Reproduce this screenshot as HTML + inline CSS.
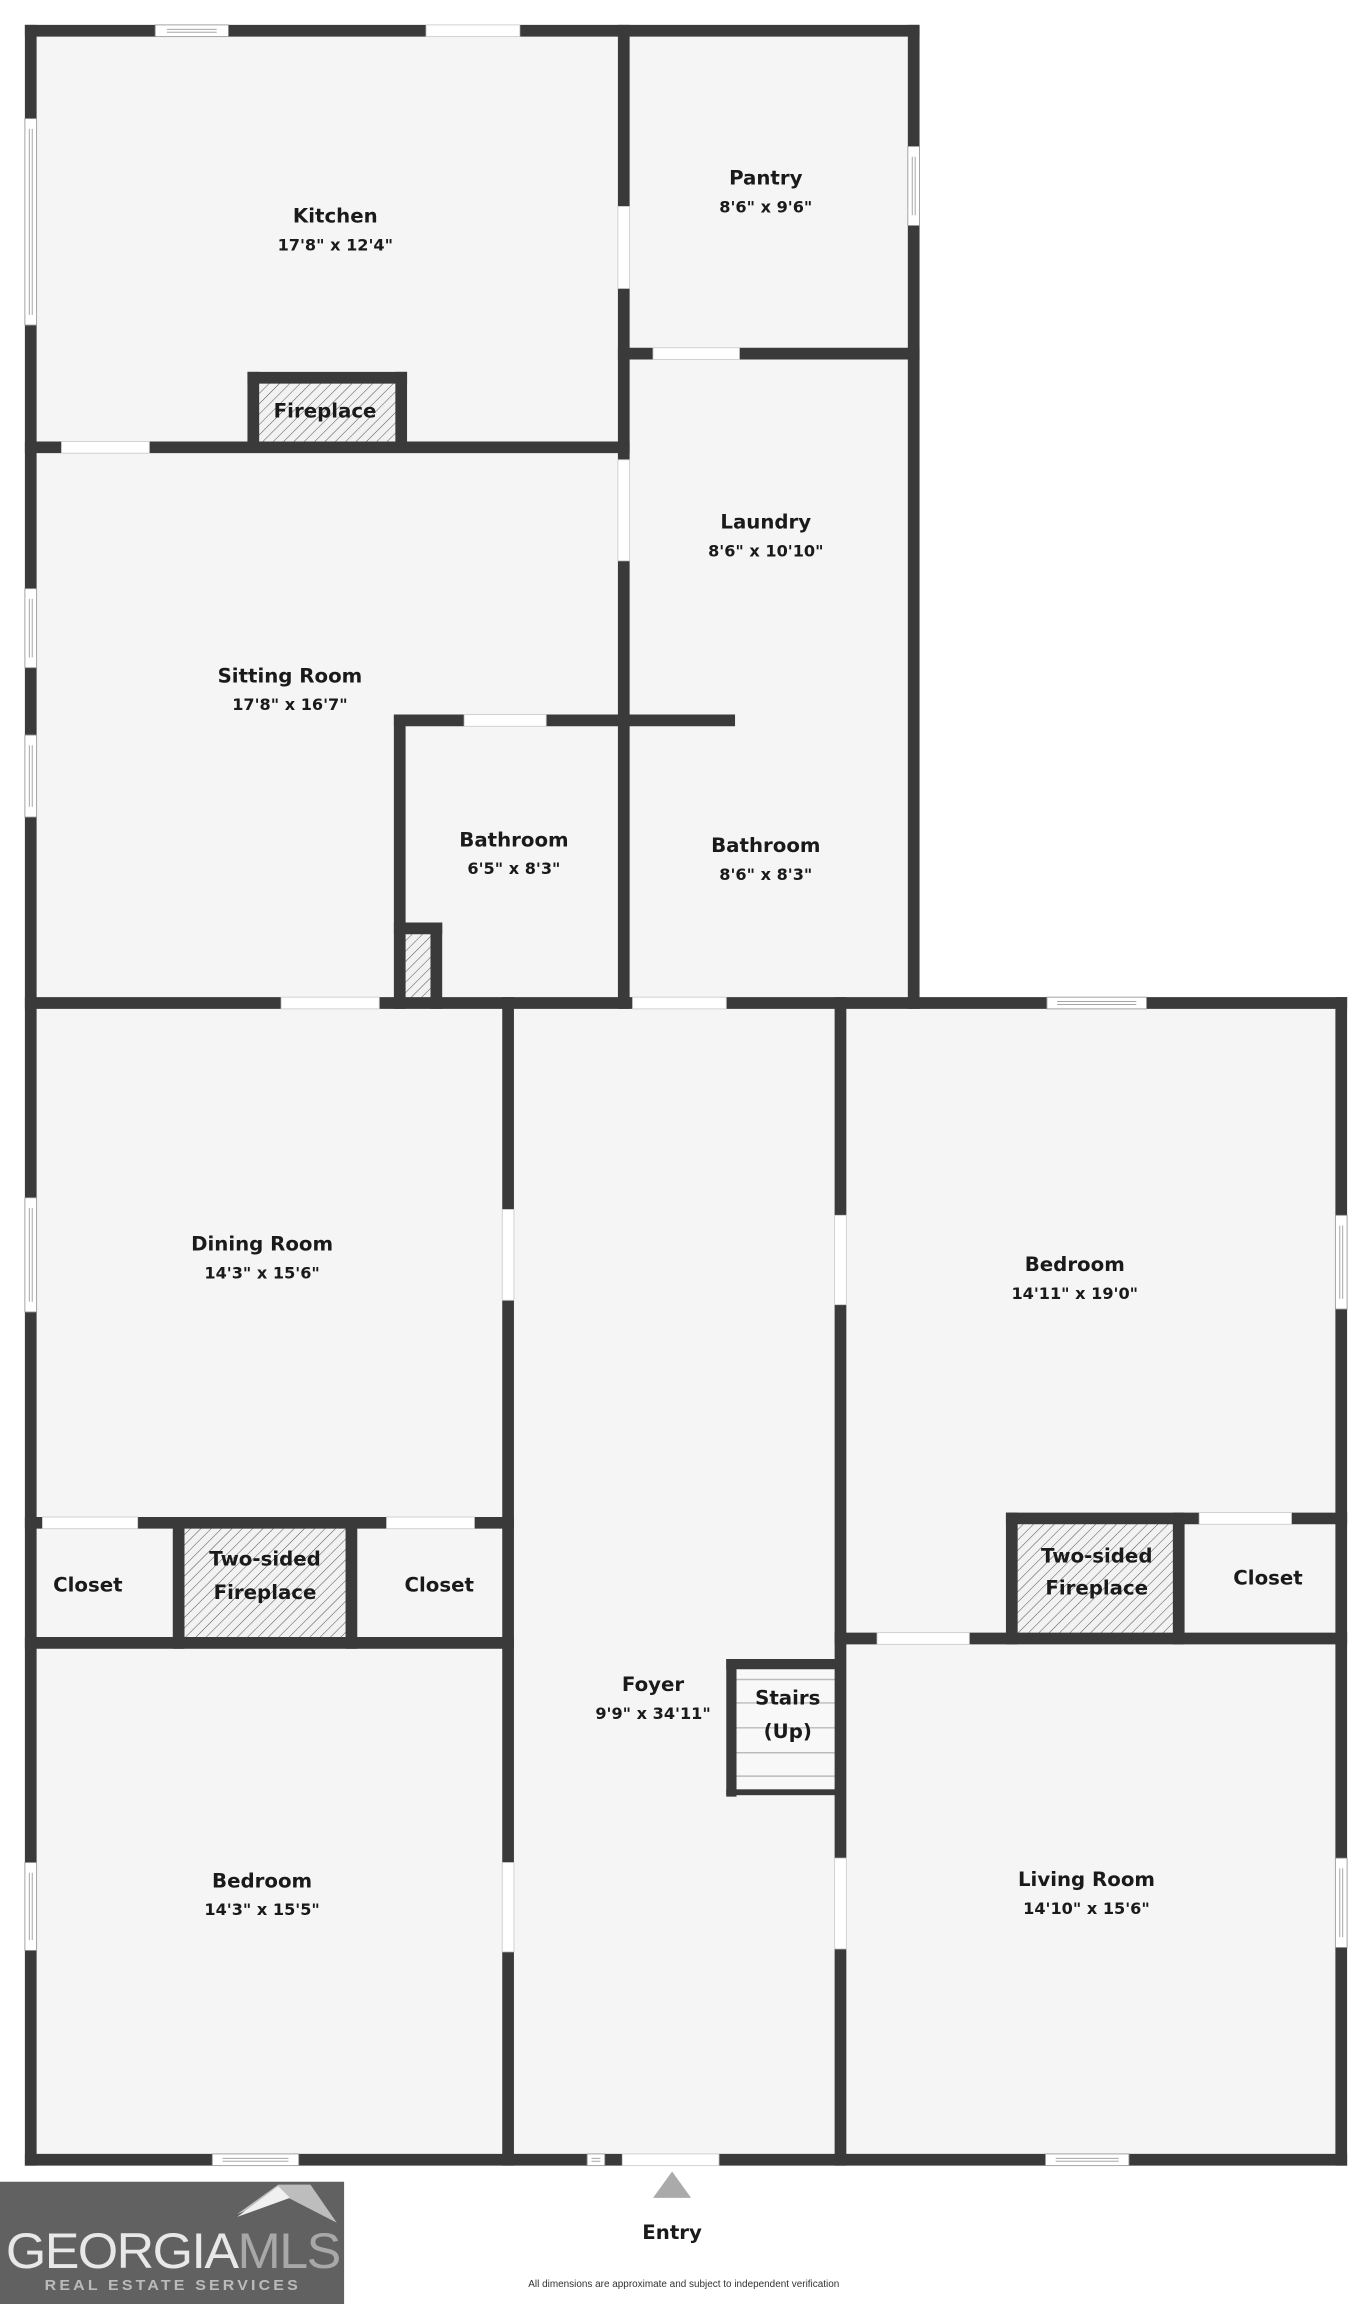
<!DOCTYPE html>
<html><head><meta charset="utf-8"><style>
html,body{margin:0;padding:0;background:#fff;}
svg{display:block;}
text{font-family:"DejaVu Sans","Liberation Sans",sans-serif;fill:#1a1a1a;text-anchor:middle;}
.n{font-size:13.5px;font-weight:bold;}
.d{font-size:11px;font-weight:bold;}
</style></head><body>
<svg width="1372" height="2304" viewBox="0 0 937 1573.5" preserveAspectRatio="none" xmlns="http://www.w3.org/2000/svg">
<defs>
<pattern id="h" width="5" height="5" patternUnits="userSpaceOnUse" patternTransform="rotate(45)">
<rect width="5" height="5" fill="#f2f2f2"/><line x1="0" y1="0" x2="0" y2="5" stroke="#555" stroke-width="0.7"/>
</pattern>
</defs>
<rect width="937" height="1573.5" fill="#fff"/>
<rect x="21" y="21" width="603" height="664" fill="#f5f5f5"/>
<rect x="21" y="685" width="895" height="790" fill="#f5f5f5"/>
<rect x="173" y="258" width="101" height="47" fill="url(#h)"/>
<rect x="273" y="634" width="25" height="51" fill="url(#h)"/>
<rect x="122" y="1040" width="118" height="82" fill="url(#h)"/>
<rect x="691" y="1037" width="114" height="82" fill="url(#h)"/>
<rect x="498" y="1136" width="76" height="89" fill="#f8f8f8"/>
<g stroke="#bbb" stroke-width="1">
<line x1="502" y1="1147" x2="572" y2="1147"/><line x1="502" y1="1163" x2="572" y2="1163"/>
<line x1="502" y1="1180" x2="572" y2="1180"/><line x1="502" y1="1197" x2="572" y2="1197"/>
<line x1="502" y1="1213" x2="572" y2="1213"/></g>
<g stroke="#3a3a3a" stroke-width="8" stroke-linecap="square" fill="none">
<line x1="21" y1="21" x2="624" y2="21"/>
<line x1="426" y1="241.5" x2="624" y2="241.5"/>
<line x1="21" y1="305.5" x2="426" y2="305.5"/>
<line x1="273" y1="492" x2="498" y2="492"/>
<line x1="21" y1="685" x2="916" y2="685"/>
<line x1="21" y1="1040" x2="347" y2="1040"/>
<line x1="21" y1="1122" x2="347" y2="1122"/>
<line x1="691" y1="1037" x2="916" y2="1037"/>
<line x1="574" y1="1119" x2="916" y2="1119"/>
<line x1="21" y1="1475" x2="916" y2="1475"/>
<line x1="173" y1="258" x2="274" y2="258"/>
<line x1="273" y1="634" x2="298" y2="634"/>
<line x1="21" y1="21" x2="21" y2="1475"/>
<line x1="426" y1="21" x2="426" y2="685"/>
<line x1="624" y1="21" x2="624" y2="685"/>
<line x1="273" y1="492" x2="273" y2="685"/>
<line x1="298" y1="634" x2="298" y2="685"/>
<line x1="347" y1="685" x2="347" y2="1475"/>
<line x1="574" y1="685" x2="574" y2="1475"/>
<line x1="916" y1="685" x2="916" y2="1475"/>
<line x1="122" y1="1040" x2="122" y2="1122"/>
<line x1="240" y1="1040" x2="240" y2="1122"/>
<line x1="173" y1="258" x2="173" y2="305"/>
<line x1="274" y1="258" x2="274" y2="305"/>
<line x1="691" y1="1037" x2="691" y2="1119"/>
<line x1="805" y1="1037" x2="805" y2="1119"/>
</g>
<g fill="#3a3a3a">
<rect x="496" y="1133" width="78" height="7"/>
<rect x="496" y="1133" width="7" height="94"/>
<rect x="496" y="1222" width="78" height="4"/>
</g>
<g fill="#fff" stroke="#ccc" stroke-width="0.6">
<rect x="291" y="17" width="64" height="8"/>
<rect x="422" y="141" width="8" height="56"/>
<rect x="446" y="237.5" width="59" height="8"/>
<rect x="42" y="301.5" width="60" height="8"/>
<rect x="422" y="314" width="8" height="69"/>
<rect x="317" y="488" width="56" height="8"/>
<rect x="192" y="681" width="67" height="8"/>
<rect x="432" y="681" width="64" height="8"/>
<rect x="343" y="826" width="8" height="62"/>
<rect x="570" y="830" width="8" height="61"/>
<rect x="29" y="1036" width="65" height="8"/>
<rect x="264" y="1036" width="60" height="8"/>
<rect x="819" y="1033" width="63" height="8"/>
<rect x="599" y="1115" width="63" height="8"/>
<rect x="343" y="1272" width="8" height="61"/>
<rect x="570" y="1269" width="8" height="62"/>
<rect x="425" y="1471" width="66" height="8"/>
</g>
<g fill="#fff" stroke="#999" stroke-width="0.6">
<rect x="106" y="17" width="50" height="8"/><line x1="114" y1="20" x2="148" y2="20"/><line x1="114" y1="22" x2="148" y2="22"/>
<rect x="17" y="81" width="8" height="141"/><line x1="20" y1="88" x2="20" y2="215"/><line x1="22" y1="88" x2="22" y2="215"/>
<rect x="620" y="100" width="8" height="54"/><line x1="623" y1="107" x2="623" y2="147"/><line x1="625" y1="107" x2="625" y2="147"/>
<rect x="17" y="402" width="8" height="54"/><line x1="20" y1="409" x2="20" y2="449"/><line x1="22" y1="409" x2="22" y2="449"/>
<rect x="17" y="502" width="8" height="56"/><line x1="20" y1="509" x2="20" y2="551"/><line x1="22" y1="509" x2="22" y2="551"/>
<rect x="715" y="681" width="68" height="8"/><line x1="722" y1="684" x2="776" y2="684"/><line x1="722" y1="686" x2="776" y2="686"/>
<rect x="17" y="818" width="8" height="78"/><line x1="20" y1="825" x2="20" y2="889"/><line x1="22" y1="825" x2="22" y2="889"/>
<rect x="912" y="830" width="8" height="64"/><line x1="915" y1="837" x2="915" y2="887"/><line x1="917" y1="837" x2="917" y2="887"/>
<rect x="17" y="1272" width="8" height="60"/><line x1="20" y1="1279" x2="20" y2="1325"/><line x1="22" y1="1279" x2="22" y2="1325"/>
<rect x="912" y="1269" width="8" height="61"/><line x1="915" y1="1276" x2="915" y2="1323"/><line x1="917" y1="1276" x2="917" y2="1323"/>
<rect x="145" y="1471" width="59" height="8"/><line x1="152" y1="1474" x2="197" y2="1474"/><line x1="152" y1="1476" x2="197" y2="1476"/>
<rect x="401" y="1471" width="12" height="8"/><line x1="404" y1="1474" x2="410" y2="1474"/><line x1="404" y1="1476" x2="410" y2="1476"/>
<rect x="714" y="1471" width="57" height="8"/><line x1="721" y1="1474" x2="764" y2="1474"/><line x1="721" y1="1476" x2="764" y2="1476"/>
</g>
<text class="n" x="229" y="152">Kitchen</text><text class="d" x="229" y="171">17'8" x 12'4"</text>
<text class="n" x="523" y="126">Pantry</text><text class="d" x="523" y="145">8'6" x 9'6"</text>
<text class="n" x="222" y="285">Fireplace</text>
<text class="n" x="523" y="361">Laundry</text><text class="d" x="523" y="380">8'6" x 10'10"</text>
<text class="n" x="198" y="466">Sitting Room</text><text class="d" x="198" y="485">17'8" x 16'7"</text>
<text class="n" x="351" y="578">Bathroom</text><text class="d" x="351" y="597">6'5" x 8'3"</text>
<text class="n" x="523" y="582">Bathroom</text><text class="d" x="523" y="601">8'6" x 8'3"</text>
<text class="n" x="179" y="854">Dining Room</text><text class="d" x="179" y="873">14'3" x 15'6"</text>
<text class="n" x="734" y="868">Bedroom</text><text class="d" x="734" y="887">14'11" x 19'0"</text>
<text class="n" x="60" y="1087">Closet</text>
<text class="n" x="181" y="1069">Two-sided</text><text class="n" x="181" y="1092">Fireplace</text>
<text class="n" x="300" y="1087">Closet</text>
<text class="n" x="749" y="1067">Two-sided</text><text class="n" x="749" y="1089">Fireplace</text>
<text class="n" x="866" y="1082">Closet</text>
<text class="n" x="446" y="1155">Foyer</text><text class="d" x="446" y="1174">9'9" x 34'11"</text>
<text class="n" x="538" y="1164">Stairs</text><text class="n" x="538" y="1187">(Up)</text>
<text class="n" x="179" y="1289">Bedroom</text><text class="d" x="179" y="1308">14'3" x 15'5"</text>
<text class="n" x="742" y="1288">Living Room</text><text class="d" x="742" y="1307">14'10" x 15'6"</text>
<polygon points="446,1501 459,1483 472,1501" fill="#aaa"/>
<text class="n" x="459" y="1529">Entry</text>
<text x="467" y="1562" style="font-size:6.8px;fill:#333;font-family:'Liberation Sans',sans-serif">All dimensions are approximate and subject to independent verification</text>
<rect x="0" y="1490" width="235" height="83.5" fill="#616161"/>
<polygon points="162,1512 190,1492 212,1492 230,1518 195,1500" fill="#bdbdbd"/>
<polygon points="162,1514 190,1493 198,1501" fill="#f0f0f0"/>
<text x="4" y="1549" style="text-anchor:start;font-size:34px;fill:#e8e8e8;letter-spacing:-1px;font-family:'Liberation Sans',sans-serif" textLength="228" lengthAdjust="spacingAndGlyphs">GEORGIA<tspan style="fill:#a8a8a8">MLS</tspan></text>
<text x="118" y="1564" style="font-size:10px;fill:#bbb;font-weight:bold;letter-spacing:2px;font-family:'Liberation Sans',sans-serif" textLength="175" lengthAdjust="spacingAndGlyphs">REAL ESTATE SERVICES</text>
</svg>
</body></html>
